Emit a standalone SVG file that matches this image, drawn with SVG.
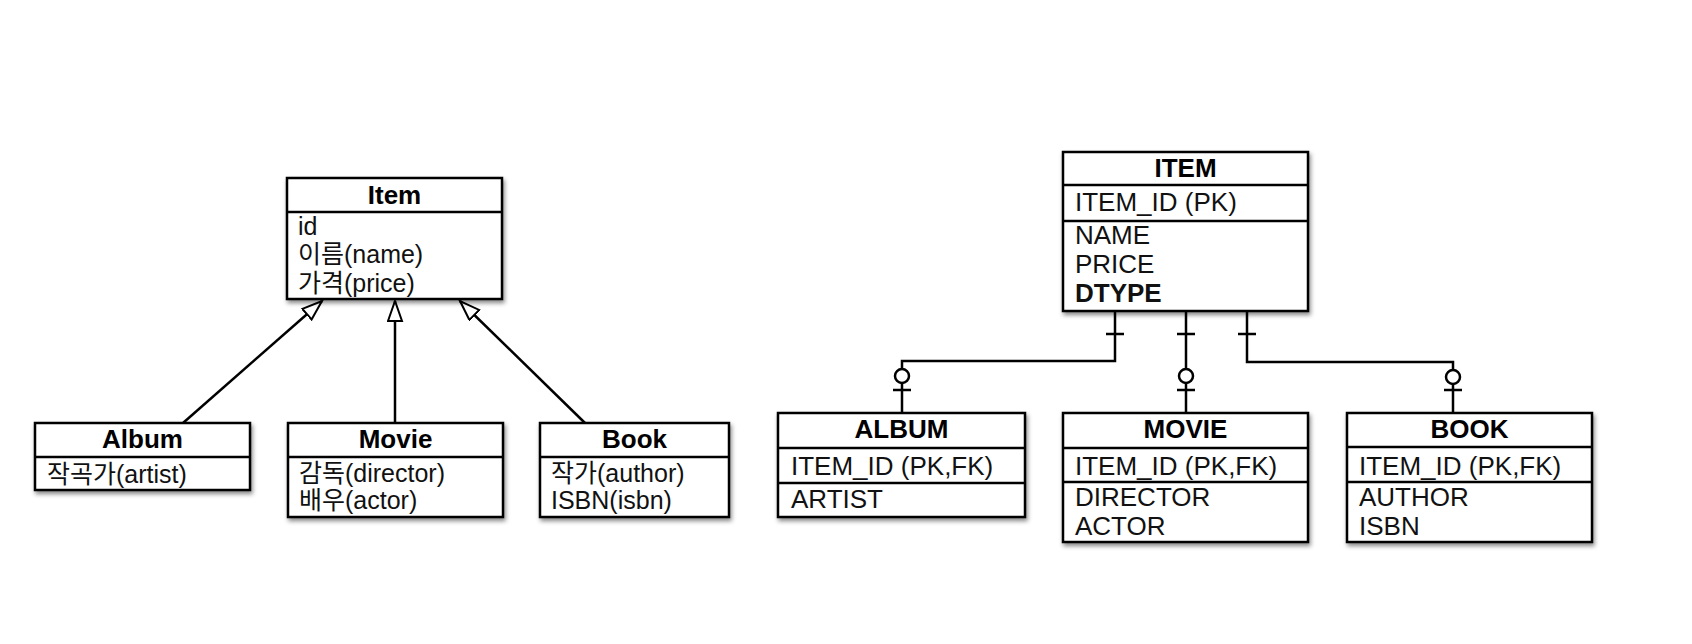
<svg xmlns="http://www.w3.org/2000/svg" width="1692" height="644" viewBox="0 0 1692 644">
<style>
.box{fill:#fff;stroke:#000;stroke-width:2.5}
.sep{stroke:#000;stroke-width:2.5}
.t{font-family:"Liberation Sans","Noto Sans CJK KR",sans-serif;fill:#111}
.h{font-weight:bold;text-anchor:middle;font-size:26px;fill:#000}
.a{font-size:25px}
.ea{font-size:26px}
.ln{fill:none;stroke:#000;stroke-width:2.5}
.circ{fill:#fff;stroke:#000;stroke-width:2.5}
</style>
<defs>
<filter id="sh" x="-10%" y="-10%" width="130%" height="140%">
<feDropShadow dx="1.5" dy="3" stdDeviation="2" flood-color="#000" flood-opacity="0.45"/>
</filter>
<marker id="tri" markerUnits="userSpaceOnUse" markerWidth="24" markerHeight="18" refX="21" refY="8" orient="auto">
<path d="M1,1 L21,8 L1,15 Z" fill="#fff" stroke="#000" stroke-width="2"/>
</marker>
</defs>
<rect width="1692" height="644" fill="#fff"/>

<g id="connectors">
<line class="ln" x1="183" y1="423" x2="322" y2="301" marker-end="url(#tri)"/>
<line class="ln" x1="395" y1="423" x2="395" y2="301" marker-end="url(#tri)"/>
<line class="ln" x1="585" y1="423" x2="460" y2="301" marker-end="url(#tri)"/>

<path class="ln" d="M1115 311 V361 H902 V413"/>
<path class="ln" d="M1106 334 H1124 M893 390 H911"/>
<circle class="circ" cx="902" cy="376" r="7"/>
<path class="ln" d="M1186 311 V413"/>
<path class="ln" d="M1177 334 H1195 M1177 390 H1195"/>
<circle class="circ" cx="1186" cy="376" r="7"/>
<path class="ln" d="M1247 311 V362 H1453 V413"/>
<path class="ln" d="M1238 334 H1256 M1444 390 H1462"/>
<circle class="circ" cx="1453" cy="377" r="7"/>
</g>

<g id="item">
<rect class="box" x="287" y="178" width="215" height="121" filter="url(#sh)"/>
<line class="sep" x1="287" y1="212" x2="502" y2="212"/>
<text class="t h" x="394.5" y="204">Item</text>
<text class="t a" x="298" y="235">id</text>
<text class="t a" x="298" y="263">이름(name)</text>
<text class="t a" x="298" y="292">가격(price)</text>
</g>

<g id="album">
<rect class="box" x="35" y="423" width="215" height="67" filter="url(#sh)"/>
<line class="sep" x1="35" y1="457" x2="250" y2="457"/>
<text class="t h" x="142.5" y="448">Album</text>
<text class="t a" x="47" y="483">작곡가(artist)</text>
</g>

<g id="movie">
<rect class="box" x="288" y="423" width="215" height="94" filter="url(#sh)"/>
<line class="sep" x1="288" y1="457" x2="503" y2="457"/>
<text class="t h" x="395.5" y="448">Movie</text>
<text class="t a" x="299" y="482">감독(director)</text>
<text class="t a" x="299" y="509">배우(actor)</text>
</g>

<g id="book">
<rect class="box" x="540" y="423" width="189" height="94" filter="url(#sh)"/>
<line class="sep" x1="540" y1="457" x2="729" y2="457"/>
<text class="t h" x="634.5" y="448">Book</text>
<text class="t a" x="551" y="482">작가(author)</text>
<text class="t a" x="551" y="509">ISBN(isbn)</text>
</g>

<g id="ITEM">
<rect class="box" x="1063" y="152" width="245" height="159" filter="url(#sh)"/>
<line class="sep" x1="1063" y1="185" x2="1308" y2="185"/>
<line class="sep" x1="1063" y1="221" x2="1308" y2="221"/>
<text class="t h" x="1185.5" y="177">ITEM</text>
<text class="t ea" x="1075" y="211">ITEM_ID (PK)</text>
<text class="t ea" x="1075" y="244">NAME</text>
<text class="t ea" x="1075" y="273">PRICE</text>
<text class="t ea" x="1075" y="302" font-weight="bold" fill="#000">DTYPE</text>
</g>

<g id="ALBUM">
<rect class="box" x="778" y="413" width="247" height="104" filter="url(#sh)"/>
<line class="sep" x1="778" y1="448" x2="1025" y2="448"/>
<line class="sep" x1="778" y1="483" x2="1025" y2="483"/>
<text class="t h" x="901.5" y="438">ALBUM</text>
<text class="t ea" x="791" y="475">ITEM_ID (PK,FK)</text>
<text class="t ea" x="791" y="508">ARTIST</text>
</g>

<g id="MOVIE">
<rect class="box" x="1063" y="413" width="245" height="129" filter="url(#sh)"/>
<line class="sep" x1="1063" y1="448" x2="1308" y2="448"/>
<line class="sep" x1="1063" y1="482" x2="1308" y2="482"/>
<text class="t h" x="1185.5" y="438">MOVIE</text>
<text class="t ea" x="1075" y="475">ITEM_ID (PK,FK)</text>
<text class="t ea" x="1075" y="506">DIRECTOR</text>
<text class="t ea" x="1075" y="535">ACTOR</text>
</g>

<g id="BOOK">
<rect class="box" x="1347" y="413" width="245" height="129" filter="url(#sh)"/>
<line class="sep" x1="1347" y1="447" x2="1592" y2="447"/>
<line class="sep" x1="1347" y1="482" x2="1592" y2="482"/>
<text class="t h" x="1469.5" y="438">BOOK</text>
<text class="t ea" x="1359" y="475">ITEM_ID (PK,FK)</text>
<text class="t ea" x="1359" y="506">AUTHOR</text>
<text class="t ea" x="1359" y="535">ISBN</text>
</g>
</svg>
